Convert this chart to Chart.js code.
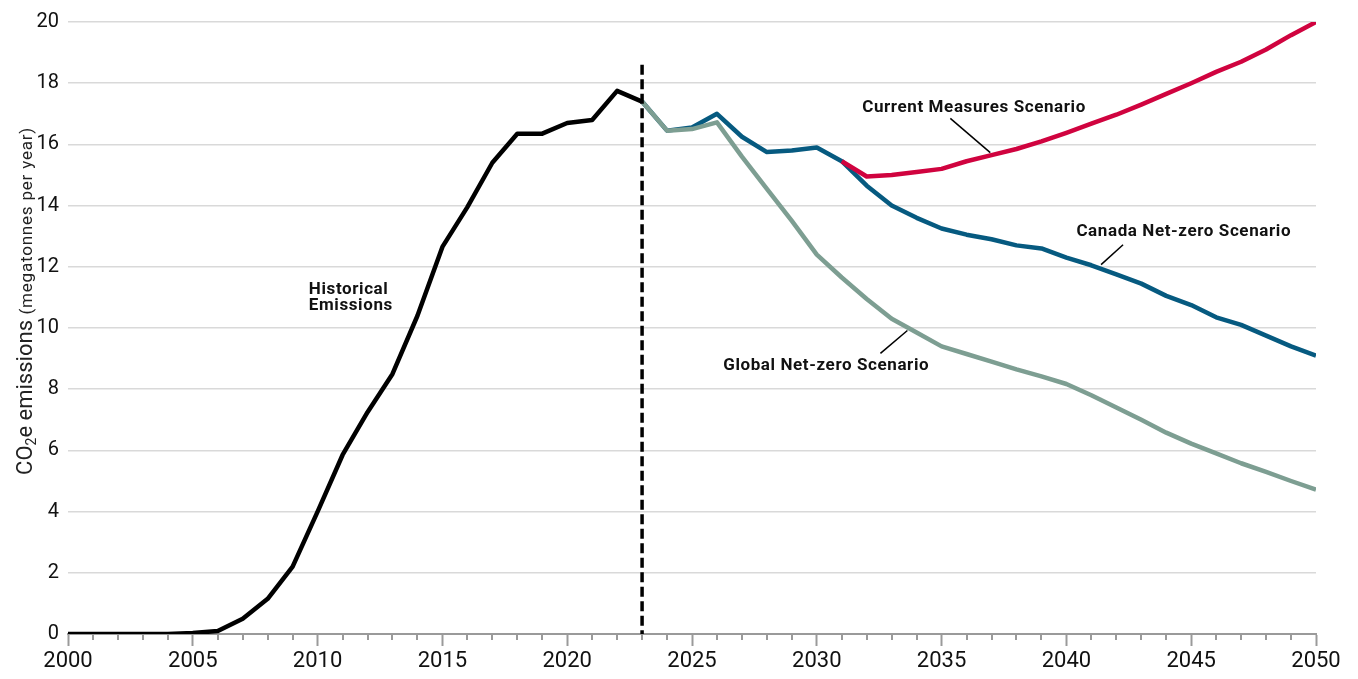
<!DOCTYPE html>
<html>
<head>
<meta charset="utf-8">
<script src="https://cdn.jsdelivr.net/npm/chart.js@4.4.0/dist/chart.umd.min.js"></script>
<style>
  html, body { margin: 0; padding: 0; background: #fff; }
  #wrap { width: 1358px; height: 679px; }
</style>
</head>
<body>
<div id="wrap"><canvas id="myChart" width="1358" height="679"></canvas></div>
<script>
// emissions data, megatonnes CO2e per year
const histStart = 2000;
const histValues = [0, 0, 0, 0, 0, 0.03, 0.1, 0.5, 1.15, 2.2, 4.0, 5.85, 7.25, 8.5,
  10.4, 12.65, 13.95, 15.4, 16.35, 16.35, 16.7, 16.8, 17.75, 17.4];

const scenarioStart = 2023;
const canadaValues = [17.4, 16.45, 16.55, 17.0, 16.25, 15.75, 15.8, 15.9, 15.45, 14.65,
  14.0, 13.6, 13.25, 13.05, 12.9, 12.7, 12.6, 12.3, 12.05, 11.75, 11.45, 11.05, 10.75,
  10.35, 10.1, 9.75, 9.4, 9.1];
const globalValues = [17.4, 16.45, 16.5, 16.72, 15.6, 14.55, 13.5, 12.4, 11.65, 10.95,
  10.3, 9.85, 9.4, 9.15, 8.9, 8.65, 8.42, 8.17, 7.8, 7.4, 7.0, 6.58, 6.22, 5.9, 5.58,
  5.3, 5.0, 4.72];

const currentStart = 2031;
const currentValues = [15.45, 14.95, 15.0, 15.1, 15.2, 15.45, 15.65, 15.85, 16.1, 16.38,
  16.68, 16.97, 17.3, 17.65, 18.0, 18.37, 18.7, 19.1, 19.57, 20.0];

const yTicks = [0, 2, 4, 6, 8, 10, 12, 14, 16, 18, 20];
const xLabelYears = [2000, 2005, 2010, 2015, 2020, 2025, 2030, 2035, 2040, 2045, 2050];

// labels on the plot, placed in data units
const notes = [
  { lines: ['Historical', 'Emissions'], x: 2009.65, y: 11.12, align: 'left' },
  { lines: ['Current Measures Scenario'], x: 2036.3, y: 17.05, align: 'center',
    leader: [2035.35, 16.85, 2036.95, 15.73] },
  { lines: ['Canada Net-zero Scenario'], x: 2040.4, y: 13.0, align: 'left',
    leader: [2042.27, 12.72, 2041.39, 12.07] },
  { lines: ['Global Net-zero Scenario'], x: 2026.25, y: 8.62, align: 'left',
    leader: [2032.55, 9.17, 2033.63, 9.92] }
];

const toPoints = (start, vals) => vals.map((v, i) => ({ x: start + i, y: v }));

const lineStyle = {
  borderWidth: 4.5,
  pointRadius: 0,
  tension: 0,
  borderJoinStyle: 'round',
  borderCapStyle: 'butt',
  fill: false
};

const data = {
  datasets: [
    { label: 'Historical Emissions', data: toPoints(histStart, histValues),
      borderColor: '#000000', order: 0, ...lineStyle },
    { label: 'Global Net-zero Scenario', data: toPoints(scenarioStart, globalValues),
      borderColor: '#7d9e92', order: 1, ...lineStyle },
    { label: 'Current Measures Scenario', data: toPoints(currentStart, currentValues),
      borderColor: '#d0033f', order: 2, ...lineStyle },
    { label: 'Canada Net-zero Scenario', data: toPoints(scenarioStart, canadaValues),
      borderColor: '#065a80', order: 3, ...lineStyle }
  ]
};

// minor year ticks under the x axis
const minorTicks = {
  id: 'minorTicks',
  afterDraw(chart) {
    const { ctx, scales: { x, y } } = chart;
    const y0 = y.getPixelForValue(0);
    ctx.save();
    ctx.strokeStyle = '#9a9a9a';
    ctx.lineWidth = 2;
    for (let yr = x.min; yr <= x.max; yr++) {
      if (yr % 5 === 0) continue;
      const px = Math.round(x.getPixelForValue(yr));
      ctx.beginPath();
      ctx.moveTo(px, y0);
      ctx.lineTo(px, y0 + 6);
      ctx.stroke();
    }
    ctx.restore();
  }
};

// dashed divider between history and projections
const divider = {
  id: 'divider',
  afterDatasetsDraw(chart) {
    const { ctx, scales: { x, y } } = chart;
    const px = x.getPixelForValue(scenarioStart);
    ctx.save();
    ctx.strokeStyle = '#000';
    ctx.lineWidth = 3.5;
    ctx.setLineDash([10, 4.5]);
    ctx.beginPath();
    ctx.moveTo(px, y.getPixelForValue(18.6));
    ctx.lineTo(px, y.getPixelForValue(0));
    ctx.stroke();
    ctx.restore();
  }
};

// series labels and their leader lines
const noteLabels = {
  id: 'noteLabels',
  afterDatasetsDraw(chart) {
    const { ctx, scales: { x, y } } = chart;
    ctx.save();
    ctx.fillStyle = '#111';
    ctx.font = 'bold 17px Roboto';
    ctx.letterSpacing = '0.6px';
    ctx.textBaseline = 'alphabetic';
    notes.forEach(n => {
      ctx.textAlign = n.align;
      n.lines.forEach((t, i) => {
        ctx.fillText(t, x.getPixelForValue(n.x), y.getPixelForValue(n.y) + i * 16);
      });
      if (n.leader) {
        const [x1, y1, x2, y2] = n.leader;
        ctx.strokeStyle = '#000';
        ctx.lineWidth = 1.5;
        ctx.beginPath();
        ctx.moveTo(x.getPixelForValue(x1), y.getPixelForValue(y1));
        ctx.lineTo(x.getPixelForValue(x2), y.getPixelForValue(y2));
        ctx.stroke();
      }
    });
    ctx.restore();
  }
};

// y axis title with subscript and smaller unit text, reading upward from y = 5.2
const yTitle = {
  id: 'yTitle',
  afterDraw(chart) {
    const { ctx, scales: { y } } = chart;
    const parts = [
      { t: 'CO', font: '22px Roboto', dy: 0, sp: '0px' },
      { t: '2', font: '14px Roboto', dy: 4, sp: '0px' },
      { t: 'e emissions ', font: '22px Roboto', dy: 0, sp: '0px' },
      { t: '(megatonnes per year)', font: '17px Roboto', dy: 0, sp: '0.8px' }
    ];
    ctx.save();
    ctx.translate(32, y.getPixelForValue(5.2));
    ctx.rotate(-Math.PI / 2);
    ctx.fillStyle = '#222';
    ctx.textAlign = 'left';
    ctx.textBaseline = 'alphabetic';
    let cx = 0;
    parts.forEach(p => {
      ctx.font = p.font;
      ctx.letterSpacing = p.sp;
      ctx.fillText(p.t, cx, p.dy);
      cx += ctx.measureText(p.t).width;
    });
    ctx.restore();
  }
};

const config = {
  type: 'line',
  data,
  options: {
    responsive: false,
    animation: false,
    layout: { padding: { top: 22, right: 42, left: 0, bottom: 0 } },
    plugins: {
      legend: { display: false },
      tooltip: { enabled: false }
    },
    scales: {
      x: {
        type: 'linear',
        min: 2000,
        max: 2050,
        afterBuildTicks: s => { s.ticks = xLabelYears.map(v => ({ value: v })); },
        afterFit: s => { s.height = 45; },
        ticks: {
          color: '#111',
          font: { family: 'Roboto', size: 22 },
          padding: 2,
          maxRotation: 0,
          callback: v => String(v)
        },
        grid: {
          drawOnChartArea: false,
          tickLength: 12,
          tickColor: '#9a9a9a',
          tickWidth: 2
        },
        border: { color: '#9a9a9a', width: 2 }
      },
      y: {
        min: 0,
        max: 20,
        afterBuildTicks: s => { s.ticks = yTicks.map(v => ({ value: v })); },
        afterFit: s => { s.width = 68; },
        ticks: {
          color: '#111',
          font: { family: 'Roboto', size: 20 },
          padding: 9
        },
        grid: {
          color: '#d9d9d9',
          lineWidth: 1.5,
          drawTicks: false
        },
        border: { display: false }
      }
    }
  },
  plugins: [minorTicks, divider, noteLabels, yTitle]
};

const myChart = new Chart(document.getElementById('myChart'), config);
</script>
</body>
</html>
